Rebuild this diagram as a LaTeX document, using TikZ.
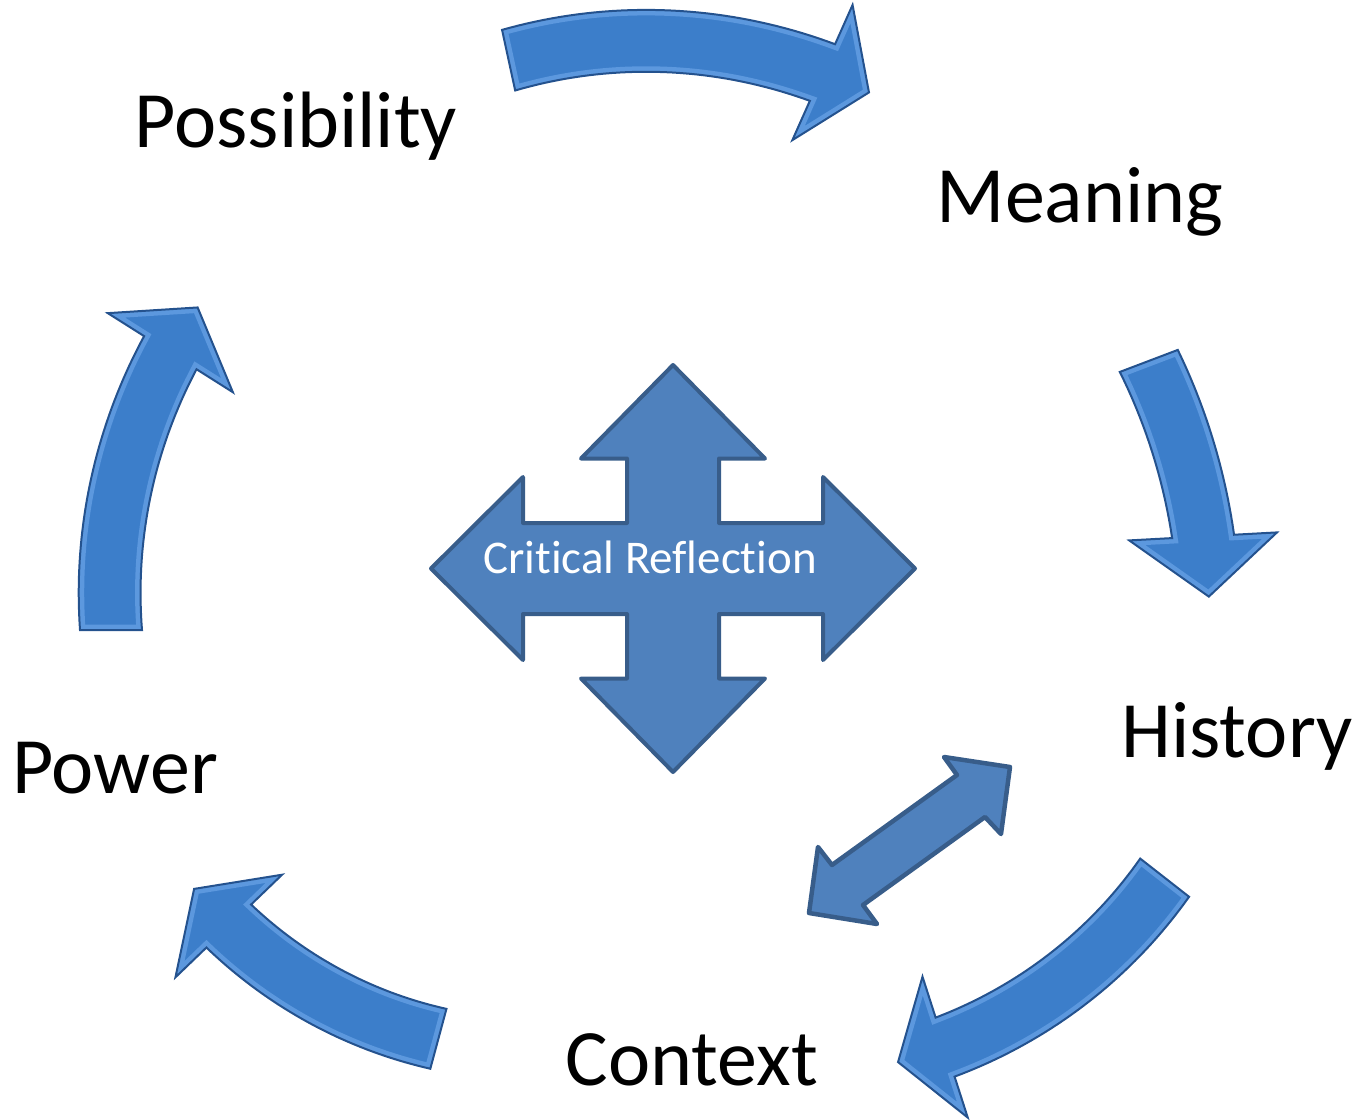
\documentclass[tikz,border=0pt]{standalone}
\usepackage{fontspec}
\setmainfont{Carlito}[Ligatures=NoCommon]

\definecolor{crossfill}{HTML}{4F81BD}
\definecolor{crossline}{HTML}{385D8A}
\definecolor{cyclefill}{RGB}{60,126,202}
\definecolor{cyclebevel}{RGB}{92,152,222}
\definecolor{cycleline}{RGB}{36,82,142}

% curved block arrow: centre x, centre y, tail radius, head radius,
% tail angle, head-base angle, tip angle
\newcommand{\cyclearrow}[7]{%
  \pgfmathsetmacro{\rdiff}{((#4)-(#3))/((#6)-(#5))}%
  \pgfmathsetmacro{\rtip}{(#4)+\rdiff*((#7)-(#6))}%
  \def\thispath{plot[domain=#5:#6,samples=40] (\x:{#3+\rdiff*(\x-(#5))+31})
    -- (#6:{#4+74}) -- (#7:\rtip) -- (#6:{#4-74})
    -- plot[domain=#6:#5,samples=40] (\x:{#3+\rdiff*(\x-(#5))-31}) -- cycle}%
  \begin{scope}[shift={(#1,#2)}]
    \begin{scope}
      \clip \thispath;
      \fill[arrowbody] \thispath;
      \draw[arrowbevel] \thispath;
    \end{scope}
    \draw[arrowedge] \thispath;
  \end{scope}}

\begin{document}
\begin{tikzpicture}[x=0.02cm, y=-0.02cm,
  stage/.style={font=\fontsize{45.5}{50}\selectfont, inner sep=0pt, anchor=base},
  crossarrow/.style={fill=crossfill, draw=crossline, line width=0.08cm, line join=round},
  arrowbody/.style={fill=cyclefill},
  arrowbevel/.style={draw=cyclebevel, line width=0.22cm, line join=miter},
  arrowedge/.style={draw=cycleline, line width=0.04cm, line join=miter}]

  \useasboundingbox (0,0) rectangle (1357,1120);

  % cycle arrows
  \cyclearrow{613}{543}{494}{515}{-102.2}{-66.0}{-60.4}
  \cyclearrow{601}{569}{586}{603}{-20.8}{-3.1}{2.6}
  \cyclearrow{799}{592}{464}{478}{38.0}{72.2}{78.1}
  \cyclearrow{553}{614}{440}{450}{105.1}{136.1}{142.55}
  \cyclearrow{609}{630}{498}{519}{180}{212.3}{218.1}

  % centre cross
  \begin{scope}[shift={(673,568.5)}]
    \draw[crossarrow] (0,-203.5) -- (92,-110) -- (46,-110) -- (46,-45.5)
      -- (150,-45.5) -- (150,-91.5) -- (242,0) -- (150,91.5) -- (150,45.5)
      -- (46,45.5) -- (46,110) -- (92,110) -- (0,203.5) -- (-92,110)
      -- (-46,110) -- (-46,45.5) -- (-150,45.5) -- (-150,91.5) -- (-242,0)
      -- (-150,-91.5) -- (-150,-45.5) -- (-46,-45.5) -- (-46,-110)
      -- (-92,-110) -- cycle;
  \end{scope}
  \node[anchor=base, inner sep=0pt, text=white, font=\fontsize{26.7}{30}\selectfont]
    at (650,573) (reflection) {Critical Reflection};

  % double arrow
  \draw[crossarrow, line width=0.09cm] (1010,767) -- (1001,834) -- (985,817)
    -- (863,905) -- (877,924) -- (809,913) -- (818,847) -- (832,865)
    -- (957,775) -- (944,757) -- cycle;

  \node[stage] (possibility) at (296,147)  {Possibility};
  \node[stage] (meaning)     at (1080,222) {Meaning};
  \node[stage] (history)     at (1237,757) {History};
  \node[stage] (context)     at (692,1085) {Context};
  \node[stage] (power)       at (115,793)  {Power};

\end{tikzpicture}
\end{document}
